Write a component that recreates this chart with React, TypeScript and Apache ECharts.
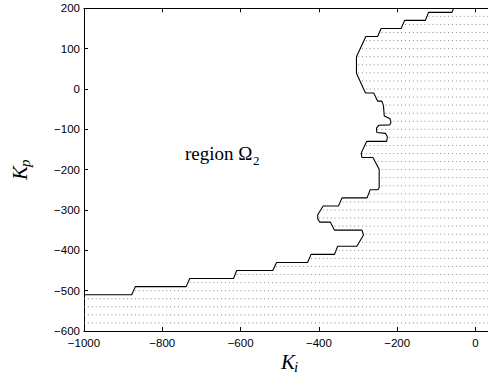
import React, { useEffect, useRef } from 'react';
import * as echarts from 'echarts';

const X_MIN = -1000;
const X_MAX = 32;
const X_STEP = 200;
const Y_MIN = -600;
const Y_MAX = 200;
const Y_STEP = 100;

// Stability boundary (Ki, Kp)
const boundaryKi = [
  -1000, -878, -869, -739, -730, -618, -610, -518, -508, -429,
  -420, -360, -352, -303, -286, -290, -360, -371, -398, -403,
  -403, -389, -350, -341, -277, -269, -249, -246, -246, -262,
  -290, -292, -278, -227, -225, -230, -252, -253, -247, -219,
  -216, -218, -233, -235, -239, -250, -260, -281, -304, -304,
  -280, -250, -241, -190, -181, -128, -120, -60, -56,
];
const boundaryKp = [
  -510, -510, -490, -490, -470, -470, -450, -450, -430, -430,
  -410, -410, -390, -390, -362, -350, -350, -330, -330, -322,
  -312, -290, -290, -270, -270, -250, -250, -245, -199, -170,
  -170, -159, -130, -130, -119, -110, -108, -97, -90, -89,
  -83, -74, -67, -42, -30, -30, -10, -10, 39, 80,
  130, 130, 150, 150, 170, 170, 190, 190, 200,
];

// Dotted rows of the shaded region: row level and where each row starts
const rowKp = [
  -580, -560, -540, -520, -500, -480, -460, -440, -420, -400,
  -380, -360, -340, -320, -300, -280, -260, -240, -220, -200,
  -180, -160, -140, -120, -100, -80, -60, -40, -20, 0,
  20, 40, 60, 80, 100, 120, 140, 160, 180,
];
const rowStartKi = [
  -1000, -1000, -1000, -1000, -870, -730, -610, -510, -420, -350,
  -290, -280, -360, -400, -390, -340, -270, -240, -240, -240,
  -250, -290, -280, -220, -250, -210, -230, -230, -250, -280,
  -290, -300, -300, -300, -290, -280, -240, -180, -120,
];

const SANS = '"Liberation Sans", Arial, Helvetica, sans-serif';
const SERIF = '"Liberation Serif", "Times New Roman", serif';

const GRID_LEFT = 84;
const GRID_TOP = 8.3;
const GRID_BOTTOM = 48;
const W = 488;
const H = 379;

function fmtTick(v: number, step: number) {
  if (Math.abs(v / step - Math.round(v / step)) > 1e-6) return '';
  return String(v).replace('-', '\u2212');
}

function txt(x: number, y: number, text: string, font: string) {
  return {
    type: 'text',
    x,
    y,
    silent: true,
    style: {
      text,
      font,
      fill: '#000',
      align: 'left',
      verticalAlign: 'middle',
      textAlign: 'left',
      textVerticalAlign: 'middle',
    },
  };
}

export default function App() {
  const ref = useRef<HTMLDivElement>(null);

  useEffect(() => {
    document.body.style.margin = '0';
    const el = ref.current;
    if (!el) return;
    const chart = echarts.init(el, undefined, { renderer: 'svg' });

    const ctx = document.createElement('canvas').getContext('2d');
    const measure = (font: string, t: string) => {
      if (!ctx) return t.length * 8;
      ctx.font = font;
      return ctx.measureText(t).width;
    };

    const C = 0.3375; // central-to-baseline offset (em)
    const regionFont = `19px ${SERIF}`;
    const subFont = `13px ${SERIF}`;
    const kFont = `italic 21px ${SERIF}`;
    const kSubFont = `italic 15px ${SERIF}`;
    const regionW = measure(regionFont, 'region \u03A9');
    const kW = measure(kFont, 'K');

    const rowSeries = rowKp.map((kp, i) => ({
      type: 'line',
      data: [
        [rowStartKi[i], kp],
        [X_MAX, kp],
      ],
      symbol: 'none',
      silent: true,
      z: 1,
      lineStyle: { color: '#8a8a8a', width: 1, type: [1, 2.915] },
    }));

    const axisCommon = {
      type: 'value',
      min: X_MIN,
      max: X_MAX,
      interval: X_STEP,
      splitLine: { show: false },
      axisLine: { show: true, onZero: false, lineStyle: { color: '#000', width: 1 } },
      axisTick: { show: true, inside: true, length: 4, lineStyle: { color: '#000', width: 1 } },
    };

    chart.setOption({
      animation: false,
      backgroundColor: '#fff',
      grid: { left: GRID_LEFT, right: 0, top: GRID_TOP, bottom: GRID_BOTTOM, containLabel: false },
      xAxis: [
        {
          ...axisCommon,
          position: 'bottom',
          axisLabel: {
            show: true,
            color: '#000',
            fontSize: 11.5,
            fontFamily: SANS,
            margin: 6,
            showMaxLabel: false,
            formatter: (v: number) => fmtTick(v, X_STEP),
          },
        },
        {
          ...axisCommon,
          position: 'top',
          axisLabel: { show: false },
        },
      ],
      yAxis: {
        type: 'value',
        min: Y_MIN,
        max: Y_MAX,
        interval: Y_STEP,
        position: 'left',
        splitLine: { show: false },
        axisLine: { show: true, onZero: false, lineStyle: { color: '#000', width: 1 } },
        axisTick: { show: true, inside: true, length: 4, lineStyle: { color: '#000', width: 1 } },
        axisLabel: {
          color: '#000',
          fontSize: 11.5,
          fontFamily: SANS,
          margin: 4,
          formatter: (v: number) => fmtTick(v, Y_STEP),
        },
      },
      series: [
        ...rowSeries,
        {
          type: 'line',
          data: boundaryKi.map((k, i) => [k, boundaryKp[i]]),
          symbol: 'none',
          silent: true,
          z: 3,
          lineStyle: { color: '#000', width: 1.1 },
        },
      ],
      graphic: [
        txt(185, 160 - C * 19, 'region \u03A9', regionFont),
        txt(185 + regionW + 0.5, 164.5 - C * 13, '2', subFont),
        txt(281, 369 - C * 21, 'K', kFont),
        txt(281 + kW - 1, 372.5 - C * 15, 'i', kSubFont),
        {
          type: 'group',
          x: 0,
          y: 180,
          rotation: Math.PI / 2,
          children: [
            txt(0, 26.7 - C * 21, 'K', kFont),
            txt(kW - 1, 30 - C * 15, 'p', kSubFont),
          ],
        },
      ],
    });

    return () => {
      chart.dispose();
    };
  }, []);

  return (
    <div
      ref={ref}
      style={{ position: 'absolute', left: 0, top: 0, width: W, height: H, background: '#fff' }}
    />
  );
}
